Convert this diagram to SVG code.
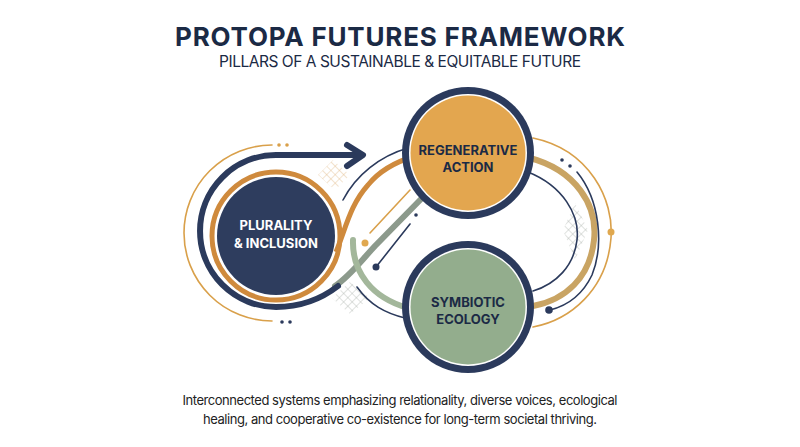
<svg xmlns="http://www.w3.org/2000/svg" width="800" height="447" viewBox="0 0 800 447">
<defs>
<style>
.title{font-family:"Inter","Liberation Sans",sans-serif;font-weight:700;fill:#1B2A45;}
.sub{font-family:"Inter","Liberation Sans",sans-serif;fill:#1B2A45;}
.lbl{font-family:"Inter","Liberation Sans",sans-serif;font-weight:700;font-size:13px;text-anchor:middle;}
.foot{font-family:"Inter","Liberation Sans",sans-serif;font-size:13px;fill:#222;text-anchor:middle;}
.thin{fill:none;stroke-width:1.6;stroke-linecap:round;}
.thick{fill:none;stroke-width:6;stroke-linecap:round;}
</style>
<pattern id="hatchO" width="6" height="6" patternUnits="userSpaceOnUse" patternTransform="rotate(45)">
<path d="M0,0 L0,6 M0,0 L6,0" stroke="#D9A86A" stroke-width="0.8"/>
</pattern>
<pattern id="hatchG" width="6" height="6" patternUnits="userSpaceOnUse" patternTransform="rotate(45)">
<path d="M0,0 L0,6 M0,0 L6,0" stroke="#9AA39A" stroke-width="0.8"/>
</pattern>
</defs>
<rect width="800" height="447" fill="#ffffff"/>

<text class="title" x="400" y="46" font-size="26" text-anchor="middle" textLength="450">PROTOPA FUTURES FRAMEWORK</text>
<text class="sub" x="400" y="67" font-size="15.5" text-anchor="middle" textLength="362">PILLARS OF A SUSTAINABLE &amp; EQUITABLE FUTURE</text>

<g id="connectors">
<path d="M333,160 L350,175 L335,190 L318,175 Z" fill="url(#hatchO)" opacity="0.8"/>
<path d="M350,282 L370,298 L350,314 L332,298 Z" fill="url(#hatchG)" opacity="0.8"/>
<path d="M575,203 L588,230 L575,260 L563,230 Z" fill="url(#hatchG)" opacity="0.8"/>

<path class="thin" stroke="#D9A04A" d="M272,145 A88 88 0 0 0 272,321"/>
<circle cx="279" cy="145" r="1.8" fill="#D9A04A"/>
<circle cx="287" cy="145" r="1.8" fill="#D9A04A"/>
<circle cx="282" cy="322" r="1.8" fill="#2B3A5C"/>
<circle cx="290" cy="322" r="1.8" fill="#2B3A5C"/>

<path class="thick" stroke="#8C9A8C" d="M335,286 C350,276 360,262 375,246 L425,195"/>
<path class="thick" stroke="#A3B79B" d="M353,240 C352,272 372,298 408,308"/>
<path class="thick" stroke="#2B3A5C" d="M338,286 C320,300 300,307 276,307 A76 76 0 0 1 276,155 L356,155"/>
<path d="M347,145 L363,155 L347,166" fill="none" stroke="#2B3A5C" stroke-width="6" stroke-linecap="round" stroke-linejoin="round"/>

<path fill="none" stroke="#CF8A3D" stroke-width="5" d="M336,252 C346,228 350,205 368,185 C380,170 395,162 415,156"/>

<path class="thin" stroke="#2B3A5C" d="M343,200 C356,175 380,156 408,148"/>
<path class="thin" stroke="#2B3A5C" d="M357,287 C370,305 385,313 405,318"/>
<path class="thin" stroke="#D9A04A" d="M370,233 L410,190"/>
<circle cx="365" cy="243" r="3.5" fill="#E0A84F"/>
<path class="thin" stroke="#2B3A5C" d="M376,267 L410,224"/>
<circle cx="376" cy="267" r="3.5" fill="#2B3A5C"/>
<circle cx="416" cy="215" r="1.8" fill="#2B3A5C"/>

<path class="thin" stroke="#D9A04A" d="M533,138 C590,150 614,200 611,238 C607,290 570,320 533,327"/>
<circle cx="611" cy="232" r="3.5" fill="#E0A84F"/>
<path class="thick" stroke="#C9A463" d="M530,158 C575,170 598,205 594,240 C590,278 565,300 533,306"/>
<path class="thin" stroke="#2B3A5C" d="M528,172 C563,186 580,215 577,240 C574,266 556,284 533,291"/>
<path class="thin" stroke="#2B3A5C" d="M577,172 C600,200 604,245 592,275 C582,296 566,306 550,310"/>
<circle cx="549" cy="310" r="3.8" fill="#2B3A5C"/>
<circle cx="562" cy="160" r="1.8" fill="#2B3A5C"/>
<circle cx="570" cy="166" r="1.8" fill="#2B3A5C"/>
</g>

<g id="plurality">
<circle cx="276" cy="236" r="64" fill="none" stroke="#CF8A3D" stroke-width="5"/>
<circle cx="276" cy="236" r="59" fill="#2E3D5E"/>
<text class="lbl" x="276" y="230" fill="#ffffff">PLURALITY</text>
<text class="lbl" x="276" y="248" fill="#ffffff">&amp; INCLUSION</text>
</g>

<g id="regenerative">
<circle cx="468" cy="153" r="66" fill="#2B3A5C"/>
<circle cx="468" cy="153" r="59" fill="#ffffff"/>
<circle cx="468" cy="153" r="57.5" fill="#E3A64F"/>
<text class="lbl" x="468" y="155" fill="#1B2A45">REGENERATIVE</text>
<text class="lbl" x="468" y="172" fill="#1B2A45">ACTION</text>
</g>

<g id="symbiotic">
<circle cx="468" cy="307" r="66" fill="#2B3A5C"/>
<circle cx="468" cy="307" r="59" fill="#ffffff"/>
<circle cx="468" cy="307" r="57.5" fill="#93AD8D"/>
<text class="lbl" x="468" y="307" fill="#1B2A45">SYMBIOTIC</text>
<text class="lbl" x="468" y="324" fill="#1B2A45">ECOLOGY</text>
</g>

<text class="foot" x="400" y="405" textLength="435">Interconnected systems emphasizing relationality, diverse voices, ecological</text>
<text class="foot" x="400" y="424" textLength="394">healing, and cooperative co-existence for long-term societal thriving.</text>
</svg>
